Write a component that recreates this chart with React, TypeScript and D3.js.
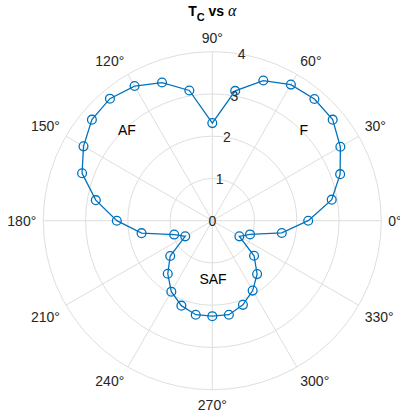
import React from "react";
import * as d3 from "d3";

// Data: critical temperature vs angle alpha (degrees)
const angles = [0, 10, 20, 30, 40, 50, 60, 70, 80, 90, 100, 110, 120, 130, 140, 150, 160, 170,
  180, 190, 200, 210, 220, 230, 240, 250, 260, 270, 280, 290, 300, 310, 320, 330, 340, 350, 360];
const tcValues = [2.27, 2.87, 3.22, 3.50, 3.72, 3.76, 3.72, 3.53, 3.12, 2.31, 3.13, 3.48, 3.68, 3.77, 3.72, 3.52, 3.28, 2.80,
  2.26, 1.70, 0.96, 0.74, 1.30, 1.64, 1.94, 2.14, 2.26, 2.26, 2.26, 2.12, 1.91, 1.65, 1.29, 0.74, 0.95, 1.67, 2.27];
const rTicks = [0, 1, 2, 3, 4];
const thetaTicks = [0, 30, 60, 90, 120, 150, 180, 210, 240, 270, 300, 330];
const annotLabels = ["AF", "F", "SAF"];
const annotAngles = [133.2, 44.7, 270.7];
const annotR = [2.95, 3.05, 1.38];

const W = 400;
const H = 416;
const cx = 212.3;
const cy = 220.7;
const R = 169;
const TEXT = "#262626";
const GRID = "#dedede";
const BLUE = "#0072BD";
const FONT = "'Liberation Sans', Arial, Helvetica, sans-serif";

export default function App() {
  const rScale = d3.scaleLinear().domain([0, 4]).range([0, R]);
  const toRad = (deg: number) => (deg * Math.PI) / 180;
  const px = (deg: number, r: number) => cx + rScale(r) * Math.cos(toRad(deg));
  const py = (deg: number, r: number) => cy - rScale(r) * Math.sin(toRad(deg));

  const pts: [number, number][] = angles.map((a, i) => [px(a, tcValues[i]), py(a, tcValues[i])]);
  const lineGen = d3.line<[number, number]>().x((d) => d[0]).y((d) => d[1]);
  const path = lineGen(pts) || "";

  const labelPad = 7;
  return (
    <svg width={W} height={H} style={{ position: "fixed", left: 0, top: 0 }} fontFamily={FONT}>
      <rect x={0} y={0} width={W} height={H} fill="#ffffff" />
      {/* spokes */}
      {thetaTicks.map((t) => (
        <line key={"s" + t} x1={cx} y1={cy} x2={px(t, 4)} y2={py(t, 4)} stroke={GRID} strokeWidth={1} />
      ))}
      {/* rings */}
      {rTicks.filter((r) => r > 0).map((r) => (
        <circle key={"c" + r} cx={cx} cy={cy} r={rScale(r)} fill="none" stroke={GRID} strokeWidth={1} />
      ))}
      {/* theta labels */}
      {thetaTicks.map((t) => {
        const c = Math.cos(toRad(t));
        const s = Math.sin(toRad(t));
        const x = cx + (R + labelPad) * c;
        const y = cy - (R + labelPad) * s;
        const anchor = Math.abs(c) < 1e-6 ? "middle" : c > 0 ? "start" : "end";
        const dy = Math.abs(s) < 1e-6 ? 5 : s > 0 ? -2 : 13.3;
        return (
          <text key={"t" + t} x={x} y={y + dy} textAnchor={anchor} fontSize={14} fill={TEXT}>
            {t}°
          </text>
        );
      })}
      {/* data line */}
      <path d={path} fill="none" stroke={BLUE} strokeWidth={1.3} />
      {pts.slice(0, pts.length - 1).map((p, i) => (
        <circle key={"m" + i} cx={p[0]} cy={p[1]} r={4.4} fill="none" stroke={BLUE} strokeWidth={1.3} />
      ))}
      {/* r tick labels */}
      {rTicks.map((r) => (
        <text key={"r" + r} x={px(80, r)} y={py(80, r) + 5} textAnchor="middle" fontSize={14} fill={TEXT}>
          {r}
        </text>
      ))}
      {/* annotations */}
      {annotLabels.map((lab, i) => (
        <text key={lab} x={px(annotAngles[i], annotR[i])} y={py(annotAngles[i], annotR[i]) + 5}
          textAnchor="middle" fontSize={14} fill="#000000">
          {lab}
        </text>
      ))}
      {/* title */}
      <text x={cx} y={15.5} textAnchor="middle" fontSize={14} fontWeight="bold" fill="#000000">
        <tspan>T</tspan>
        <tspan fontSize={11} dy={5}>C</tspan>
        <tspan dy={-5}> vs </tspan>
        <tspan fontFamily="'Liberation Serif', 'DejaVu Serif', serif" fontStyle="italic" fontWeight="normal" fontSize={16}>α</tspan>
      </text>
    </svg>
  );
}
